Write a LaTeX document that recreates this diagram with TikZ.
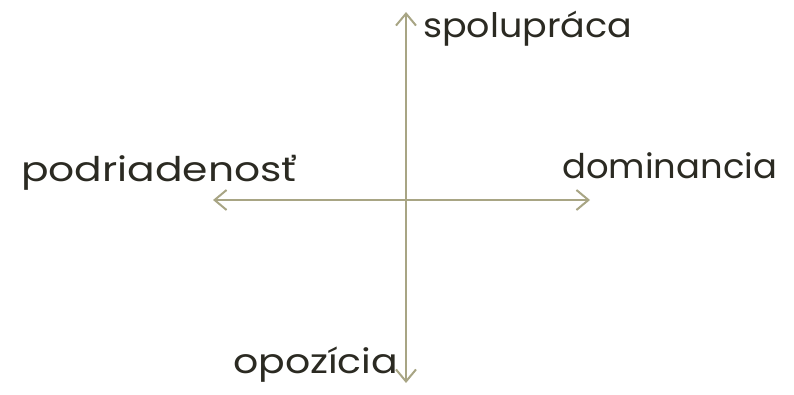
\documentclass[tikz,border=0pt]{standalone}
\usepackage{fontspec}
\setmainfont{Poppins}
\usetikzlibrary{arrows.meta}
\definecolor{axiscol}{HTML}{A8A584}
\definecolor{txtcol}{HTML}{2B2A22}
\tikzset{
  axis/.style={draw=axiscol, line width=2pt, {Straight Barb[length=12pt,width=20pt]}-{Straight Barb[length=12pt,width=20pt]}},
  lbl/.style={text=txtcol, font=\fontsize{34}{40}\selectfont, inner sep=0pt, anchor=base west}
}
\begin{document}
\begin{tikzpicture}[x=1pt,y=-1pt]
\useasboundingbox (0,0) rectangle (794,395);
\coordinate (top) at (406,12);
\coordinate (bot) at (406,383);
\coordinate (left) at (213,200);
\coordinate (right) at (590,200);
\draw[axis] (left) -- (right);
\draw[axis] (top) -- (bot);
\node[lbl] (spol) at (423,38) {\resizebox{209pt}{!}{\scalebox{1}[0.925]{spolupráca}}};
\node[lbl] (podr) at (21,182) {\scalebox{1.2}[1]{podriadenosť}};
\node[lbl] (dom) at (562,179) {\scalebox{1.04}[1]{dominancia}};
\node[lbl] (opo) at (233,373) {\scalebox{1.16}[1]{opozícia}};
\end{tikzpicture}
\end{document}
